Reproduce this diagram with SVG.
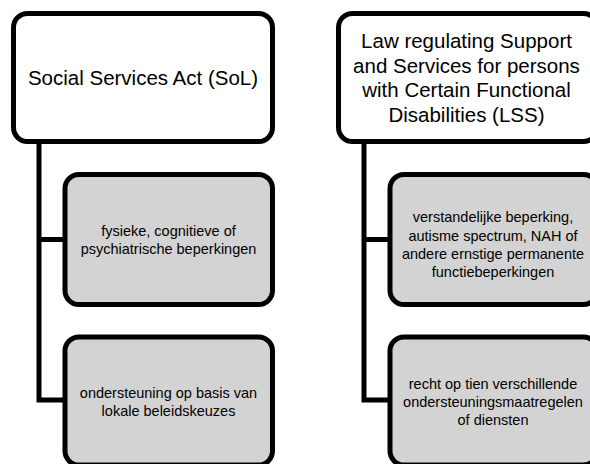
<svg xmlns="http://www.w3.org/2000/svg" width="590" height="464" viewBox="0 0 590 464">
<style>
.box{stroke:#000;stroke-width:5;}
.top{fill:#fff;}
.sub{fill:#d3d3d3;}
.conn{fill:none;stroke:#000;stroke-width:5;stroke-linejoin:miter;stroke-linecap:butt;}
.t1{font-family:"Liberation Sans",Arial,sans-serif;font-size:20.5px;fill:#000;text-anchor:middle;}
.t2{font-family:"Liberation Sans",Arial,sans-serif;font-size:14.5px;fill:#000;text-anchor:middle;}
</style>
<rect width="590" height="464" fill="#fff"/>
<g id="connectors">
<path class="conn" d="M39,141.5 V400 H65 M39,239.5 H65"/>
<path class="conn" d="M364,141.5 V400 H390 M364,239.5 H390"/>
</g>
<g id="sol">
<rect class="box top" x="13.5" y="13.5" width="259" height="128" rx="14" ry="14"/>
<text class="t1" x="143" y="85">Social Services Act (SoL)</text>
</g>
<g id="sol-1">
<rect class="box sub" x="65" y="174.5" width="207.5" height="130" rx="14" ry="14"/>
<text class="t2" x="168.5" y="236">fysieke, cognitieve of</text>
<text class="t2" x="168.5" y="253.5">psychiatrische beperkingen</text>
</g>
<g id="sol-2">
<rect class="box sub" x="65" y="337" width="207.5" height="128" rx="14" ry="14"/>
<text class="t2" x="168.5" y="397.5">ondersteuning op basis van</text>
<text class="t2" x="168.5" y="415.5">lokale beleidskeuzes</text>
</g>
<g id="lss">
<rect class="box top" x="338.5" y="13.5" width="259" height="128" rx="14" ry="14"/>
<text class="t1" x="466.5" y="48">Law regulating Support</text>
<text class="t1" x="466.5" y="72.5">and Services for persons</text>
<text class="t1" x="466.5" y="97">with Certain Functional</text>
<text class="t1" x="466.5" y="121.5">Disabilities (LSS)</text>
</g>
<g id="lss-1">
<rect class="box sub" x="390" y="174.5" width="207.5" height="130" rx="14" ry="14"/>
<text class="t2" x="493" y="222">verstandelijke beperking,</text>
<text class="t2" x="493" y="240.5">autisme spectrum, NAH of</text>
<text class="t2" x="493" y="259">andere ernstige permanente</text>
<text class="t2" x="493" y="277">functiebeperkingen</text>
</g>
<g id="lss-2">
<rect class="box sub" x="390" y="337" width="207.5" height="128" rx="14" ry="14"/>
<text class="t2" x="493" y="389">recht op tien verschillende</text>
<text class="t2" x="493" y="407">ondersteuningsmaatregelen</text>
<text class="t2" x="493" y="424.5">of diensten</text>
</g>
</svg>
